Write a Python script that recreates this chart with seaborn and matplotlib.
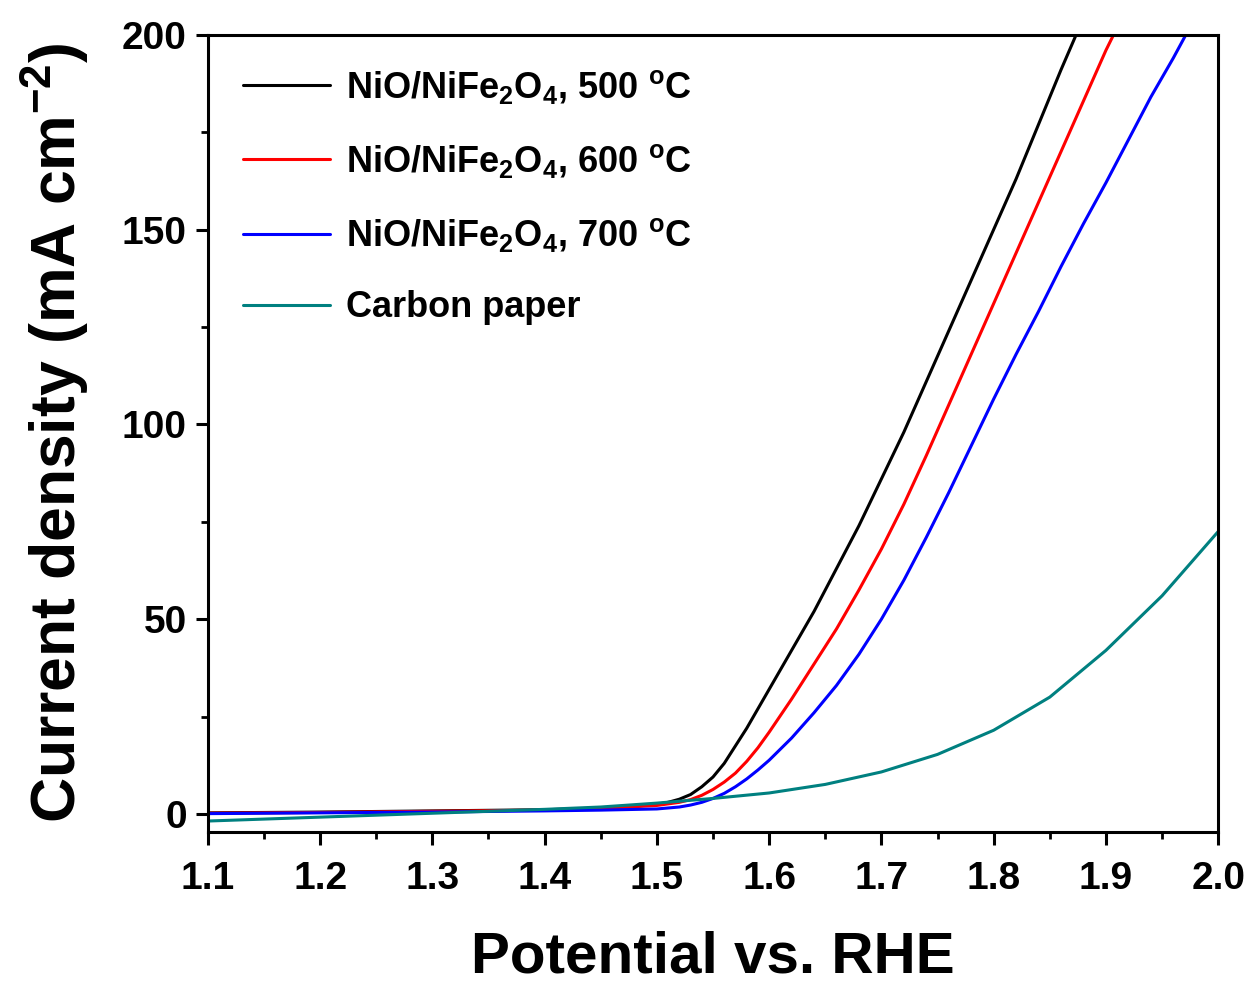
import matplotlib
matplotlib.use("Agg")
import matplotlib.pyplot as plt
import seaborn as sns
import pandas as pd
from matplotlib.ticker import MultipleLocator

# ---- data ----
labels = [r"NiO/NiFe$_2$O$_4$, 500 $^{o}$C",
          r"NiO/NiFe$_2$O$_4$, 600 $^{o}$C",
          r"NiO/NiFe$_2$O$_4$, 700 $^{o}$C",
          "Carbon paper"]
colors = ["#000000", "#FF0000", "#0000FF", "#008080"]

v500 = [1.10, 1.20, 1.30, 1.40, 1.45, 1.48, 1.50, 1.51, 1.52, 1.53, 1.54, 1.55, 1.56, 1.57,
        1.58, 1.59, 1.60, 1.62, 1.64, 1.66, 1.68, 1.70, 1.72, 1.74, 1.76, 1.78, 1.80, 1.82,
        1.84, 1.86, 1.875]
j500 = [0.3, 0.5, 0.8, 1.1, 1.5, 2.0, 2.5, 3.0, 3.8, 5.0, 7.0, 9.5, 13, 17.5,
        22, 27, 32, 42, 52, 63, 74, 86, 98, 111, 124, 137, 150, 163,
        177, 191, 201]

v600 = [1.10, 1.20, 1.30, 1.40, 1.45, 1.50, 1.52, 1.53, 1.54, 1.55, 1.56, 1.57, 1.58, 1.59,
        1.60, 1.62, 1.64, 1.66, 1.68, 1.70, 1.72, 1.74, 1.76, 1.78, 1.80, 1.82, 1.84, 1.86,
        1.88, 1.90, 1.912]
j600 = [0.2, 0.4, 0.7, 1.0, 1.4, 2.2, 3.0, 3.7, 4.8, 6.3, 8.2, 10.5, 13.5, 17,
        21, 29.5, 38.5, 47.5, 57.5, 68, 79.5, 92, 105, 118, 131, 144, 157, 170,
        183, 196, 203]

v700 = [1.10, 1.20, 1.30, 1.40, 1.45, 1.50, 1.52, 1.53, 1.54, 1.55, 1.56, 1.57, 1.58, 1.59,
        1.60, 1.62, 1.64, 1.66, 1.68, 1.70, 1.72, 1.74, 1.76, 1.78, 1.80, 1.82, 1.84, 1.86,
        1.88, 1.90, 1.92, 1.94, 1.96, 1.975]
j700 = [0.1, 0.3, 0.5, 0.8, 1.0, 1.3, 1.8, 2.3, 3.0, 4.0, 5.3, 7.0, 9.0, 11.3,
        13.8, 19.5, 26, 33, 41, 50, 60, 71, 82.5, 94.5, 106.5, 118, 129, 140.5,
        151.5, 162, 173, 184, 194, 202]

vcp = [1.10, 1.20, 1.30, 1.40, 1.45, 1.50, 1.55, 1.60, 1.65, 1.70, 1.75, 1.80, 1.85, 1.90,
       1.95, 2.00]
jcp = [-1.8, -0.8, 0.2, 1.2, 1.8, 2.8, 4.0, 5.4, 7.6, 10.8, 15.3, 21.5, 30, 42,
       56, 72.5]

xticks = [1.1, 1.2, 1.3, 1.4, 1.5, 1.6, 1.7, 1.8, 1.9, 2.0]
yticks = [0, 50, 100, 150, 200]

frames = []
for lab, v, j in zip(labels, [v500, v600, v700, vcp], [j500, j600, j700, jcp]):
    frames.append(pd.DataFrame({"Potential": v, "J": j, "Sample": lab}))
df = pd.concat(frames, ignore_index=True)

# ---- style ----
sns.set_theme(style="ticks")
plt.rcParams["font.family"] = ["Liberation Sans", "DejaVu Sans"]
plt.rcParams["font.weight"] = "bold"
plt.rcParams["text.color"] = "black"
plt.rcParams["axes.labelcolor"] = "black"
plt.rcParams["mathtext.fontset"] = "custom"
plt.rcParams["mathtext.rm"] = "Liberation Sans:bold"
plt.rcParams["mathtext.it"] = "Liberation Sans:bold"
plt.rcParams["mathtext.bf"] = "Liberation Sans:bold"
plt.rcParams["mathtext.default"] = "rm"

fig = plt.figure(figsize=(12.52, 9.91), dpi=100)
ax = fig.add_axes([0.166, 0.1605, 0.807, 0.8045])

sns.lineplot(data=df, x="Potential", y="J", hue="Sample", palette=colors,
             hue_order=labels, linewidth=2.2, ax=ax, sort=False, estimator=None)

ax.set_xlim(1.1, 2.0)
ax.set_ylim(-4.6, 200)
ax.set_xticks(xticks)
ax.set_xticklabels([f"{t:.1f}" for t in xticks])
ax.set_yticks(yticks)
ax.set_yticklabels([str(t) for t in yticks])
ax.xaxis.set_minor_locator(MultipleLocator(0.05))
ax.yaxis.set_minor_locator(MultipleLocator(25))

for s in ax.spines.values():
    s.set_linewidth(2.2)
    s.set_color("black")
ax.tick_params(axis="both", which="major", direction="out", length=9, width=2.2,
               labelsize=28, pad=6, colors="black", labelcolor="black")
ax.tick_params(axis="x", which="major", pad=12)
ax.tick_params(axis="both", which="minor", direction="out", length=5, width=2.0,
               colors="black")
for lab in ax.get_xticklabels() + ax.get_yticklabels():
    lab.set_fontweight("bold")

ax.set_xlabel("Potential vs. RHE", fontsize=42, fontweight="bold", labelpad=24,
              color="black")
ax.set_ylabel(r"Current density (mA cm$^{-2}$)", fontsize=45, fontweight="bold",
              labelpad=22, color="black")

leg = ax.legend(loc="upper left", frameon=False, fontsize=26, handlelength=2.4,
                handletextpad=0.45, labelspacing=1.0, borderaxespad=0.3,
                bbox_to_anchor=(0.01, 0.99))
for line in leg.get_lines():
    line.set_linewidth(2.2)
for t in leg.get_texts():
    t.set_color("black")

fig.savefig("out.png", dpi=100)
